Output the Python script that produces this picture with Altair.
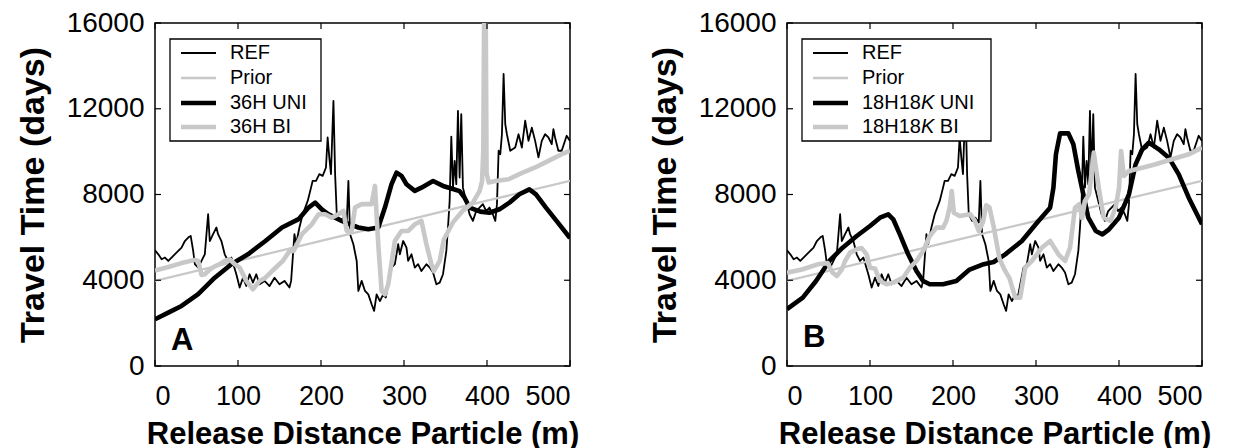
import altair as alt
import pandas as pd

# ---------------- data ----------------
ref_x = [0, 4, 8, 12, 16, 22, 28, 32, 36, 40, 43, 46, 48, 52, 56, 60, 64, 66, 70, 74, 76, 80, 84, 88, 92,
         98, 102, 106, 110, 114, 118, 122, 126, 132, 138, 144, 150, 156, 162, 164, 168, 170, 174, 178,
         184, 188, 190, 194, 198, 202, 206, 208, 210, 212, 215, 217, 219, 223, 227, 231, 233, 235, 239,
         243, 245, 249, 253, 257, 261, 264, 267, 271, 275, 278, 281, 285, 289, 293, 295, 299, 303, 305,
         309, 313, 317, 321, 327, 331, 335, 339, 343, 347, 351, 353, 355, 357, 359, 361, 363, 365, 367,
         369, 371, 375, 379, 383, 387, 391, 395, 399, 403, 407, 410, 412, 414, 416, 418, 420, 422, 424,
         428, 434, 438, 442, 446, 450, 454, 458, 462, 466, 470, 474, 478, 480, 482, 486, 490, 496, 500]
ref_y = [5400, 5210, 4980, 5060, 4900, 5140, 5370, 5520, 5830, 5990, 6070, 5370, 4750, 4590, 4900, 5210,
         7080, 5830, 6150, 6460, 6150, 5830, 5210, 4900, 5060, 4280, 3660, 4120, 3730, 4280, 3890, 4280,
         3810, 3970, 3730, 4120, 3810, 3970, 3660, 3970, 6150, 5680, 6460, 7080, 7700, 8320, 8640, 8640,
         8950, 8870, 9260, 10660, 9730, 8950, 12370, 8950, 7080, 6770, 6920, 6690, 8640, 6150, 5680,
         4900, 3500, 3970, 3500, 3340, 2880, 2570, 3340, 3030, 3340, 3190, 3810, 4590, 4750, 5680, 5210,
         5830, 5520, 4900, 5210, 4590, 4750, 4430, 4750, 4590, 4360, 3810, 3890, 4280, 5370, 6460, 7700,
         10700, 8320, 9570, 8480, 11900, 8790, 11750, 8320, 7700, 7080, 6770, 7230, 7390, 7550, 7230,
         7390, 7080, 6770, 7550, 10040, 9880, 10810, 13620, 11280, 10810, 10040, 10190, 10810, 10190,
         11440, 10500, 11120, 10500, 9730, 10500, 10810, 10660, 10350, 11050, 10660, 10040, 10040,
         10740, 10500]

prior_x = [0, 100, 200, 300, 400, 500]
prior_y = [3970, 4900, 5840, 6770, 7710, 8640]

uniA_x = [0, 16, 32, 52, 72, 92, 112, 133, 153, 173, 185, 193, 201, 209, 217, 225, 235, 245, 257, 269,
          277, 285, 291, 297, 303, 313, 321, 335, 347, 359, 367, 373, 379, 392, 403, 415, 427, 439, 451,
          459, 471, 484, 500]
uniA_y = [2180, 2490, 2800, 3350, 4120, 4750, 5210, 5830, 6460, 6850, 7390, 7620, 7310, 7080, 6920,
          6770, 6610, 6460, 6380, 6460, 7390, 8480, 9020, 8870, 8480, 8170, 8320, 8630, 8400, 8260,
          8160, 7850, 7390, 7200, 7150, 7310, 7620, 8010, 8240, 8010, 7390, 6760, 5970]

biA_x = [0, 16, 32, 48, 52, 56, 60, 66, 72, 78, 84, 90, 96, 102, 110, 118, 126, 133, 141, 154, 162, 167,
         171, 177, 189, 197, 205, 213, 221, 227, 231, 237, 241, 249, 261, 265, 269, 273, 277, 281, 289,
         297, 305, 313, 321, 327, 333, 336, 343, 348, 359, 371, 383, 391, 394, 395.5, 396.5, 398.5, 399.5,
         402, 410, 426, 443, 458, 474, 490, 500]
biA_y = [4450, 4620, 4800, 4950, 4900, 4250, 4280, 4500, 4650, 4750, 4900, 4980, 4750, 4590, 3970,
         3580, 3970, 4120, 4430, 4900, 5360, 5370, 5680, 6150, 6610, 7080, 7080, 6920, 7080, 7230, 6300,
         6300, 7390, 7550, 7550, 8400, 5680, 3500, 3340, 3810, 5830, 6300, 6300, 6610, 6770, 5680, 4750,
         4430, 4900, 5900, 6700, 7250, 7620, 8160, 8600, 10000, 16000, 16000, 9000, 8560, 8630, 8710,
         9020, 9260, 9570, 9880, 10040]

uniB_x = [0, 19, 35, 51, 67, 84, 100, 112, 122, 128, 136, 146, 156, 164, 172, 188, 204, 220, 237, 249,
          263, 283, 303, 317, 321, 324, 329, 339, 345, 351, 357, 363, 372, 380, 388, 400, 412, 420, 428,
          436, 448, 460, 472, 484, 500]
uniB_y = [2650, 3190, 3965, 4900, 5520, 6064, 6530, 6920, 7077, 6843, 6142, 5209, 4432, 3965, 3811,
          3811, 3965, 4500, 4750, 4850, 5209, 5831, 6764, 7386, 8319, 9874, 10850, 10850, 10342, 9097,
          8008, 6920, 6298, 6142, 6376, 6920, 8008, 9408, 10109, 10420, 10109, 9719, 8942, 7852, 6609]

biB_x = [0, 18, 37, 49, 55, 60, 66, 70, 76, 84, 90, 96, 100, 106, 112, 120, 128, 140, 148, 156, 164, 172,
         180, 188, 192, 196, 198.5, 201, 208, 221, 226, 231, 236, 240, 244, 249, 256, 262, 268, 275, 281,
         287, 295, 307, 317, 327, 335, 341, 347, 352, 355.5, 359, 364, 369.6, 375.6, 381.6, 389.7, 395.8,
         400, 402.5, 405.8, 412, 428, 444, 464, 484, 500]
biB_y = [4354, 4500, 4743, 4800, 4350, 4198, 4500, 4898, 5287, 5442, 5500, 5209, 4587, 4550, 3965,
         3811, 3890, 4121, 4587, 4898, 5365, 6064, 6453, 6453, 6764, 7386, 8164, 7150, 6998, 7075,
         6800, 6298, 6700, 7500, 7400, 6500, 5000, 4500, 4100, 3188, 3188, 4587, 4898, 5519, 5831,
         5209, 4898, 5519, 7386, 7550, 6900, 7700, 8008, 9952, 8319, 6920, 6764, 7386, 8300, 10030,
         8864, 9097, 9252, 9408, 9641, 9874, 10185]

x_ticks = [0, 100, 200, 300, 400, 500]
y_ticks = [0, 4000, 8000, 12000, 16000]

labels_A = ["REF", "Prior", "36H UNI", "36H BI"]
labels_B = ["REF", "Prior", ["18H18", "K", "UNI"], ["18H18", "K", "BI"]]

# ---------------- style ----------------
W, H = 415, 343
FONT = "Liberation Sans"
BLACK = "#000000"
GRAY = "#c8c8c8"
styles = [(BLACK, 1.8), (GRAY, 2.3), (BLACK, 4.6), (GRAY, 4.6)]

xscale = alt.Scale(domain=[0, 500], nice=False, zero=False)
yscale = alt.Scale(domain=[0, 16000], nice=False, zero=False)

xaxis = alt.Axis(values=x_ticks, title="Release Distance Particle (m)", format="d",
                 labelFontSize=27, labelPadding=17, titleFontSize=31, titlePadding=10,
                 ticks=False, domain=False, grid=False, labelFont=FONT, titleFont=FONT,
                 titleFontWeight="bold", labelColor="black", titleColor="black")
yaxis = alt.Axis(values=y_ticks, title="Travel Time (days)", format="d",
                 labelFontSize=28, labelPadding=11, titleFontSize=34, titlePadding=16,
                 ticks=False, domain=False, grid=False, labelFont=FONT, titleFont=FONT,
                 titleFontWeight="bold", labelColor="black", titleColor="black")

one = pd.DataFrame({"a": [0]})


def series_layer(xs, ys, style):
    color, sw = style
    df = pd.DataFrame({"x": xs, "y": ys})
    return alt.Chart(df).mark_line(color=color, strokeWidth=sw, clip=True,
                                   strokeJoin="round", strokeCap="butt").encode(
        x=alt.X("x:Q", scale=xscale, axis=xaxis),
        y=alt.Y("y:Q", scale=yscale, axis=yaxis),
    )


def tick_layers():
    xt = pd.DataFrame({"t": x_ticks})
    yt = pd.DataFrame({"t": y_ticks})
    L = []
    L.append(alt.Chart(xt).mark_rule(color="black", strokeWidth=1.2).encode(
        x=alt.X("t:Q", scale=xscale, axis=xaxis), y=alt.value(H), y2=alt.value(H - 6)))
    L.append(alt.Chart(xt).mark_rule(color="black", strokeWidth=1.2).encode(
        x=alt.X("t:Q", scale=xscale, axis=xaxis), y=alt.value(0), y2=alt.value(6)))
    L.append(alt.Chart(yt).mark_rule(color="black", strokeWidth=1.2).encode(
        y=alt.Y("t:Q", scale=yscale, axis=yaxis), x=alt.value(0), x2=alt.value(6)))
    L.append(alt.Chart(yt).mark_rule(color="black", strokeWidth=1.2).encode(
        y=alt.Y("t:Q", scale=yscale, axis=yaxis), x=alt.value(W - 6), x2=alt.value(W)))
    return L


def legend_layers(labels, box_x2):
    L = []
    L.append(alt.Chart(one).mark_rect(fill="white", stroke="black", strokeWidth=1.3).encode(
        x=alt.value(15), x2=alt.value(box_x2), y=alt.value(16), y2=alt.value(118)))
    rows = [30, 55, 80, 104]
    for lab, (color, sw), ry in zip(labels, styles, rows):
        L.append(alt.Chart(one).mark_rule(color=color, strokeWidth=sw).encode(
            x=alt.value(26), x2=alt.value(61), y=alt.value(ry)))
        if isinstance(lab, str):
            L.append(alt.Chart(one).mark_text(text=lab, font=FONT, fontSize=20, align="left",
                                              baseline="middle").encode(
                x=alt.value(75), y=alt.value(ry)))
        else:
            pre, ital, post = lab
            x0 = 75
            w_pre = 2.946 * 20
            w_k = 0.667 * 20
            L.append(alt.Chart(one).mark_text(text=pre, font=FONT, fontSize=20, align="left",
                                              baseline="middle").encode(
                x=alt.value(x0), y=alt.value(ry)))
            L.append(alt.Chart(one).mark_text(text=ital, font=FONT, fontSize=20, fontStyle="italic",
                                              align="left", baseline="middle").encode(
                x=alt.value(x0 + w_pre), y=alt.value(ry)))
            L.append(alt.Chart(one).mark_text(text=post, font=FONT, fontSize=20, align="left",
                                              baseline="middle").encode(
                x=alt.value(x0 + w_pre + w_k + 0.278 * 20), y=alt.value(ry)))
    return L


def panel(uni_x, uni_y, bi_x, bi_y, labels, box_x2, letter, letter_y):
    layers = [
        series_layer(ref_x, ref_y, styles[0]),
        series_layer(prior_x, prior_y, styles[1]),
        series_layer(uni_x, uni_y, styles[2]),
        series_layer(bi_x, bi_y, styles[3]),
    ]
    layers += tick_layers()
    layers += legend_layers(labels, box_x2)
    layers.append(alt.Chart(one).mark_text(text=letter, font=FONT, fontSize=31, fontWeight="bold",
                                           align="left", baseline="alphabetic").encode(
        x=alt.value(16), y=alt.value(letter_y)))
    return alt.layer(*layers).properties(width=W, height=H)


pA = panel(uniA_x, uniA_y, biA_x, biA_y, labels_A, 166, "A", 327)
pB = panel(uniB_x, uniB_y, biB_x, biB_y, labels_B, 204, "B", 324)

chart = alt.hconcat(pA, pB, spacing=67).properties(
    padding={"left": 15, "top": 8, "right": 0, "bottom": 0},
    background="white",
).configure_view(
    stroke="black", strokeWidth=1.5
)

chart.save("out.html", embed_options={"renderer": "svg", "actions": False})
